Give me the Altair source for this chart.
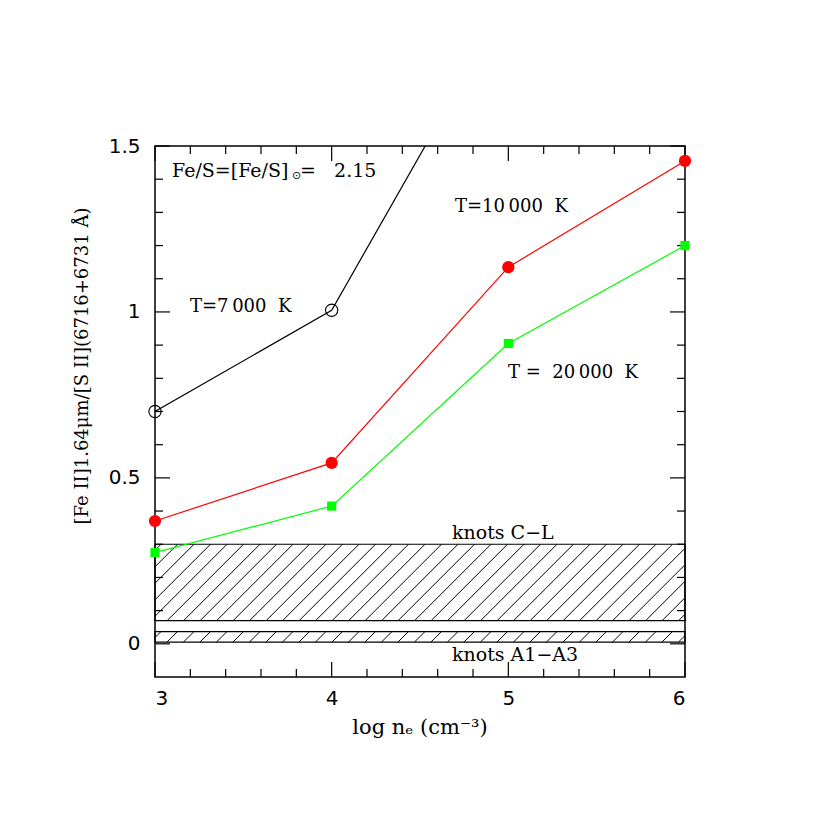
import altair as alt
import pandas as pd
import numpy as np

# ---------------- data ----------------
log_ne = [3, 4, 5, 6]
ratio_t7000 = [0.70, 1.005, 1.94]          # at log ne = 3, 4, 5 (last leaves the frame)
ratio_t10000 = [0.37, 0.545, 1.135, 1.455]
ratio_t20000 = [0.275, 0.415, 0.905, 1.20]

band_names = ["knots C-L", "knots A1-A3"]
band_low = [0.07, 0.005]
band_high = [0.30, 0.037]

x_major = [3, 4, 5, 6]
x_minor = [3.2, 3.4, 3.6, 3.8, 4.2, 4.4, 4.6, 4.8, 5.2, 5.4, 5.6, 5.8]
y_major = [0, 0.5, 1, 1.5]
y_minor = [0.1, 0.2, 0.3, 0.4, 0.6, 0.7, 0.8, 0.9, 1.1, 1.2, 1.3, 1.4]

X_DOMAIN = [3, 6]
Y_DOMAIN = [-0.1, 1.5]
W, H = 530, 531
SERIF = "DejaVu Serif"
SANS = "DejaVu Sans"

xscale = alt.Scale(domain=X_DOMAIN, nice=False, zero=False)
yscale = alt.Scale(domain=Y_DOMAIN, nice=False, zero=False)
xaxis = alt.Axis(values=x_major, tickSize=0, domain=False, grid=False, title=None,
                 labelPadding=11, labelFont=SANS, labelFontSize=20,
                 labelColor="black", format="~g")
yaxis = alt.Axis(values=y_major, tickSize=0, domain=False, grid=False, title=None,
                 labelPadding=15, labelFont=SANS, labelFontSize=20,
                 labelColor="black", format="~g")


def X(field):
    return alt.X(field, type="quantitative", scale=xscale, axis=xaxis, title=None)


def Y(field):
    return alt.Y(field, type="quantitative", scale=yscale, axis=yaxis, title=None)


# ---------------- observed bands + hatching ----------------
bands = pd.DataFrame({"name": band_names, "lo": band_low, "hi": band_high,
                      "x0": [X_DOMAIN[0]] * 2, "x1": [X_DOMAIN[1]] * 2})

sx = W / (X_DOMAIN[1] - X_DOMAIN[0])
sy = H / (Y_DOMAIN[1] - Y_DOMAIN[0])
spacing = 16.5
rows = []
for lo, hi in zip(band_low, band_high):
    h = (hi - lo) * sy
    c = -h + 6
    while c < W:
        xa, ya = c, 0.0
        xb, yb = c + h, h
        if xa < 0:
            ya = -xa
            xa = 0.0
        if xb > W:
            yb = h - (xb - W)
            xb = float(W)
        if yb > ya:
            rows.append({"xa": X_DOMAIN[0] + xa / sx, "ya": lo + ya / sy,
                         "xb": X_DOMAIN[0] + xb / sx, "yb": lo + yb / sy})
        c += spacing
hatch = pd.DataFrame(rows)

band_rect = alt.Chart(bands).mark_rect(fillOpacity=0, stroke="black", strokeWidth=1.2).encode(
    x=X("x0"), x2="x1:Q", y=Y("lo"), y2="hi:Q",
)

hatch_lines = alt.Chart(hatch).mark_rule(color="black", strokeWidth=1).encode(
    x=X("xa"), y=Y("ya"), x2="xb:Q", y2="yb:Q"
)

# ---------------- model curves ----------------
df7 = pd.DataFrame({"x": log_ne[:3], "y": ratio_t7000})
df10 = pd.DataFrame({"x": log_ne, "y": ratio_t10000})
df20 = pd.DataFrame({"x": log_ne, "y": ratio_t20000})

line7 = alt.Chart(df7).mark_line(color="black", strokeWidth=1.2, clip=True).encode(x=X("x"), y=Y("y"))
pts7 = alt.Chart(df7).transform_filter(alt.datum.y <= Y_DOMAIN[1]).mark_point(
    shape="circle", size=150, color="black", filled=False, strokeWidth=1.1, opacity=1
).encode(x=X("x"), y=Y("y"))

line10 = alt.Chart(df10).mark_line(color="#ff0000", strokeWidth=1.2).encode(x=X("x"), y=Y("y"))
pts10 = alt.Chart(df10).mark_point(shape="circle", size=150, color="#ff0000", filled=True, opacity=1).encode(
    x=X("x"), y=Y("y"))

line20 = alt.Chart(df20).mark_line(color="#00ff00", strokeWidth=1.2).encode(x=X("x"), y=Y("y"))
pts20 = alt.Chart(df20).mark_point(shape="square", size=85, color="#00ff00", filled=True, opacity=1).encode(
    x=X("x"), y=Y("y"))

# ---------------- inward ticks on all four sides ----------------
tick_layers = []
for vals, length in ((x_major, 15), (x_minor, 8)):
    d = pd.DataFrame({"v": vals})
    tick_layers.append(alt.Chart(d).mark_rule(color="black", strokeWidth=1.2).encode(
        x=X("v"), y=alt.value(H), y2=alt.value(H - length)))
    tick_layers.append(alt.Chart(d).mark_rule(color="black", strokeWidth=1.2).encode(
        x=X("v"), y=alt.value(0), y2=alt.value(length)))
for vals, length in ((y_major, 15), (y_minor, 8)):
    d = pd.DataFrame({"v": vals})
    tick_layers.append(alt.Chart(d).mark_rule(color="black", strokeWidth=1.2).encode(
        y=Y("v"), x=alt.value(0), x2=alt.value(length)))
    tick_layers.append(alt.Chart(d).mark_rule(color="black", strokeWidth=1.2).encode(
        y=Y("v"), x=alt.value(W), x2=alt.value(W - length)))


# ---------------- annotations ----------------
def label(text, px, py, size=18, font=SERIF, align="left", angle=0):
    return alt.Chart(pd.DataFrame({"t": [text]})).mark_text(
        align=align, baseline="middle", font=font, fontSize=size, color="black", angle=angle
    ).encode(x=alt.value(px), y=alt.value(py), text="t:N")


NB = "\u00a0"
texts = [
    label("Fe/S=[Fe/S]", 17, 25, size=19),
    label("\u2299", 137, 30, size=11, font=SANS),
    label("=" + NB + NB + NB + "2.15", 145, 25, size=19),
    label("T=7\u2009000" + NB + NB + "K", 35, 161),
    label("T=10\u2009000" + NB + NB + "K", 300, 61),
    label("T" + NB + "=" + NB + NB + "20\u2009000" + NB + NB + "K", 353, 227),
    label("knots" + NB + "C\u2212L", 297, 387, size=19),
    label("knots" + NB + "A1\u2212A3", 297, 509, size=19),
    label("[Fe II]1.64\u03bcm/[S II](6716+6731 \u00c5)", -72, 220, size=18, align="center", angle=270),
    label("log n\u2091 (cm\u207b\u00b3)", 265, 582, size=21, align="center"),
]

chart = alt.layer(
    band_rect, hatch_lines, *tick_layers,
    line7, line20, line10, pts7, pts20, pts10,
    *texts,
).properties(
    width=W, height=H,
    autosize=alt.AutoSizeParams(type="none"),
    padding={"left": 147, "top": 138, "right": 100, "bottom": 100},
    background="white",
).configure_view(stroke="black", strokeWidth=1.5)

chart.save("out.html", embed_options={"renderer": "svg", "actions": False})
